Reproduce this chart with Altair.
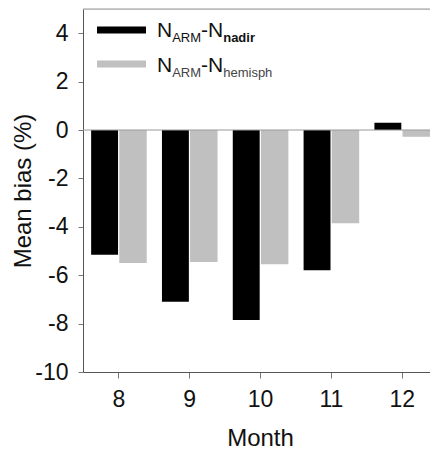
import altair as alt
import pandas as pd

months = [8, 9, 10, 11, 12]
nadir = [-5.15, -7.1, -7.85, -5.8, 0.3]
hemisph = [-5.5, -5.45, -5.55, -3.85, -0.28]
y_ticks = [-10, -8, -6, -4, -2, 0, 2, 4]

rows = []
for m, a, b in zip(months, nadir, hemisph):
    rows.append({"month": m, "series": "nadir", "value": a})
    rows.append({"month": m, "series": "hemisph", "value": b})
df = pd.DataFrame(rows)

FONT = "Liberation Sans"
W, H = 347, 363

xs = alt.Scale(domain=[7.5, 12.4], nice=False, zero=False)
ys = alt.Scale(domain=[-10, 5], nice=False, zero=False)

bars = alt.Chart(df).transform_calculate(
    x0="datum.month + (datum.series == 'nadir' ? -0.385 : 0.012)",
    x1="datum.month + (datum.series == 'nadir' ? -0.005 : 0.4)",
).mark_bar(clip=True).encode(
    x=alt.X("x0:Q", scale=xs, axis=alt.Axis(
        values=months, labelExpr="'' + datum.value", title="Month", tickSize=6,
        labelPadding=10, labelFontSize=23, titleFontSize=24,
        titleFontWeight="normal", titleX=177, titleY=73,
        titleBaseline="alphabetic", grid=False, domainColor="#555",
        tickColor="#777", labelColor="#111", titleColor="#111",
        labelFont=FONT, titleFont=FONT)),
    x2="x1:Q",
    y=alt.Y("value:Q", scale=ys, axis=alt.Axis(
        values=y_ticks, labelExpr="'' + datum.value", title="Mean bias (%)", tickSize=5,
        labelPadding=10, labelFontSize=23, titleFontSize=24,
        titleFontWeight="normal", titleX=-60, titleY=H / 2,
        titleAngle=-90, titleBaseline="middle", grid=False,
        domainColor="#555", tickColor="#777", labelColor="#111",
        titleColor="#111", labelFont=FONT, titleFont=FONT)),
    y2=alt.datum(0),
    color=alt.Color("series:N", scale=alt.Scale(
        domain=["nadir", "hemisph"], range=["#000000", "#c0c0c0"]), legend=None),
)

zero_line = alt.Chart().mark_rule(color="#999", strokeWidth=1.2).encode(
    y=alt.datum(0))
top_line = alt.Chart().mark_rule(color="#999", strokeWidth=1.2).encode(
    y=alt.datum(5))

# manual legend
sw1 = alt.Chart().mark_rule(color="#000000", strokeWidth=7).encode(
    x=alt.value(14), x2=alt.value(63), y=alt.value(21))
sw2 = alt.Chart().mark_rule(color="#c0c0c0", strokeWidth=7).encode(
    x=alt.value(14), x2=alt.value(63), y=alt.value(55))

def txt(s, x, y, size, weight="normal", color="#111"):
    return alt.Chart().mark_text(
        text=s, font=FONT, fontSize=size, fontWeight=weight, color=color,
        align="left", baseline="alphabetic").encode(
        x=alt.value(x), y=alt.value(y))

main, sub = 21, 13
def entry(y, subname, weight, subcolor):
    x = 74
    parts = [txt("N", x, y, main)]
    x += 0.722 * main
    parts.append(txt("ARM", x, y + 5, sub, color=subcolor))
    x += 2.222 * sub
    parts.append(txt("-N", x, y, main))
    x += 1.055 * main
    parts.append(txt(subname, x, y + 5, sub, weight=weight, color=subcolor))
    return parts

legend_parts = entry(28, "nadir", "bold", "#111") + entry(63, "hemisph", "normal", "#444")

chart = alt.layer(bars, zero_line, top_line, sw1, sw2, *legend_parts).properties(
    width=W, height=H,
    autosize=alt.AutoSizeParams(type="none"),
    padding={"left": 83, "top": 9, "right": 0, "bottom": 78},
).configure_view(stroke=None).configure(font=FONT)

chart.save("out.html", embed_options={"renderer": "svg", "actions": False})
